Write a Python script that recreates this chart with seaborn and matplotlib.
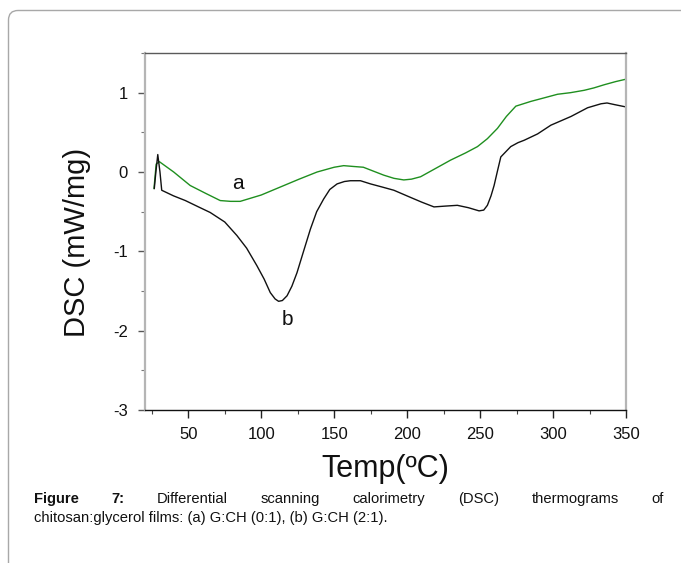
import numpy as np
import pandas as pd
import matplotlib
matplotlib.use("Agg")
import matplotlib.pyplot as plt
from matplotlib.patches import FancyBboxPatch
from matplotlib.ticker import MultipleLocator
import seaborn as sns

# ---------------- data ----------------
temp_a = [26.5, 28.0, 30.2, 40.0, 51.3, 62.0, 71.9, 79.0, 85.6, 100.0, 113.0, 126.0, 138.3,
          150.0, 156.5, 163.0, 170.0, 184.0, 191.0, 197.7, 203.0, 209.2, 220.0, 229.8, 240.0,
          248.2, 255.0, 261.9, 268.0, 274.5, 284.8, 295.0, 303.1, 312.0, 321.4, 328.0, 335.1,
          343.0, 350.0]
dsc_a = [-0.21, 0.10, 0.13, 0.00, -0.17, -0.27, -0.36, -0.37, -0.37, -0.29, -0.19, -0.09, 0.00,
         0.06, 0.08, 0.07, 0.06, -0.04, -0.08, -0.10, -0.09, -0.06, 0.05, 0.15, 0.24,
         0.32, 0.42, 0.55, 0.70, 0.83, 0.89, 0.94, 0.98, 1.00, 1.03, 1.06, 1.10,
         1.14, 1.17]

temp_b = [26.7, 27.8, 29.1, 30.6, 31.8, 39.8, 48.0, 57.0, 65.0, 75.0, 83.3, 90.0, 97.0, 102.0,
          106.2, 109.5, 111.9, 114.5, 117.7, 121.0, 124.5, 129.0, 133.7, 138.0, 142.8, 147.0,
          152.0, 157.0, 161.1, 168.0, 174.9, 183.0, 190.9, 202.3, 210.0, 218.4, 226.0, 234.4,
          242.0, 249.3, 252.5, 255.0, 257.5, 259.6, 262.0, 264.2, 271.0, 276.0, 280.2, 289.4,
          298.5, 312.3, 323.7, 332.9, 337.0, 342.0, 350.0]
dsc_b = [-0.21, 0.00, 0.22, 0.00, -0.23, -0.30, -0.36, -0.44, -0.51, -0.63, -0.80, -0.96, -1.18,
         -1.35, -1.52, -1.60, -1.63, -1.62, -1.56, -1.44, -1.27, -1.00, -0.72, -0.50, -0.34, -0.22,
         -0.15, -0.12, -0.11, -0.11, -0.15, -0.19, -0.23, -0.32, -0.38, -0.44, -0.43, -0.42,
         -0.45, -0.49, -0.48, -0.42, -0.30, -0.17, 0.02, 0.19, 0.32, 0.37, 0.40, 0.48,
         0.59, 0.70, 0.81, 0.86, 0.87, 0.85, 0.82]

x_ticks = [50, 100, 150, 200, 250, 300, 350]
y_ticks = [-3, -2, -1, 0, 1]
x_label = "Temp(ºC)"
y_label = "DSC (mW/mg)"
curve_labels = ["a", "b"]
caption_line1 = ["Figure", "7:", "Differential", "scanning", "calorimetry", "(DSC)", "thermograms", "of"]
caption_bold = [True, True, False, False, False, False, False, False]
caption_line2 = "chitosan:glycerol films: (a) G:CH (0:1), (b) G:CH (2:1)."

# ---------------- style ----------------
sns.set_style("white")
plt.rcParams["font.family"] = ["Liberation Sans", "DejaVu Sans"]
plt.rcParams["axes.unicode_minus"] = False

W, H = 681, 563
fig = plt.figure(figsize=(W / 100, H / 100), dpi=100)

# outer rounded frame
frame = FancyBboxPatch((8.5 / W, -0.2), 1.2, 1.2 - 10.5 / H,
                       boxstyle="round,pad=0,rounding_size=0.014",
                       transform=fig.transFigure, facecolor="none",
                       edgecolor="#a8a8a8", linewidth=1.0, mutation_aspect=W / H)
fig.patches.append(frame)

left, right, top, bottom = 144.5, 626, 53, 410
ax = fig.add_axes([left / W, 1 - bottom / H, (right - left) / W, (bottom - top) / H])

df_a = pd.DataFrame({"Temp": temp_a, "DSC": dsc_a})
df_b = pd.DataFrame({"Temp": temp_b, "DSC": dsc_b})
sns.lineplot(data=df_a, x="Temp", y="DSC", ax=ax, color="#1f8f1f", linewidth=1.0,
             sort=False, estimator=None)
sns.lineplot(data=df_b, x="Temp", y="DSC", ax=ax, color="#111111", linewidth=1.0,
             sort=False, estimator=None)

ax.set_xlim(20, 350)
ax.set_ylim(-3, 1.5)
ax.set_xticks(x_ticks)
ax.set_yticks(y_ticks)
ax.xaxis.set_minor_locator(MultipleLocator(25))
ax.yaxis.set_minor_locator(MultipleLocator(0.5))

ax.set_xlabel(x_label, fontsize=22, labelpad=9, color="#111111")
ax.set_ylabel(y_label, fontsize=21, color="#111111")
ax.yaxis.set_label_coords(-0.112, 0.47)

for lab in ax.get_xticklabels() + ax.get_yticklabels():
    lab.set_fontsize(12)
    lab.set_color("#111111")

ax.tick_params(axis="x", which="major", direction="out", length=6, width=1, color="#222222", pad=6, bottom=True)
ax.tick_params(axis="x", which="minor", direction="out", length=3, width=0.8, color="#444444", bottom=True)
ax.tick_params(axis="y", which="major", direction="out", length=5, width=1, color="#555555", pad=7, left=True)
ax.tick_params(axis="y", which="minor", direction="out", length=3, width=0.8, color="#777777", left=True)

ax.spines["top"].set_color("#5a5a5a")
ax.spines["top"].set_linewidth(1.0)
ax.spines["bottom"].set_color("#111111")
ax.spines["bottom"].set_linewidth(1.0)
ax.spines["left"].set_color("#b5b5b5")
ax.spines["left"].set_linewidth(1.6)
ax.spines["right"].set_color("#b5b5b5")
ax.spines["right"].set_linewidth(1.6)
for s in ax.spines.values():
    s.set_visible(True)

ax.text(84, -0.14, curve_labels[0], fontsize=15, ha="center", va="center", color="#111111")
ax.text(118, -1.86, curve_labels[1], fontsize=15, ha="center", va="center", color="#111111")

# ---------------- caption (justified first line) ----------------
cap_fs = 10.6
x0, x1 = 34, 664
y1, y2 = 503, 522
fig.canvas.draw()
renderer = fig.canvas.get_renderer()
texts = []
for w, b in zip(caption_line1, caption_bold):
    t = fig.text(0, 1 - y1 / H, w, fontsize=cap_fs, fontweight="bold" if b else "normal",
                 color="#111111", va="baseline", ha="left")
    texts.append(t)
widths = [t.get_window_extent(renderer).width for t in texts]
gap = (x1 - x0 - sum(widths)) / (len(texts) - 1)
xpos = x0
for t, w in zip(texts, widths):
    t.set_x(xpos / W)
    xpos += w + gap
fig.text(x0 / W, 1 - y2 / H, caption_line2, fontsize=cap_fs, color="#111111", va="baseline", ha="left")

fig.savefig("out.png", dpi=100)
